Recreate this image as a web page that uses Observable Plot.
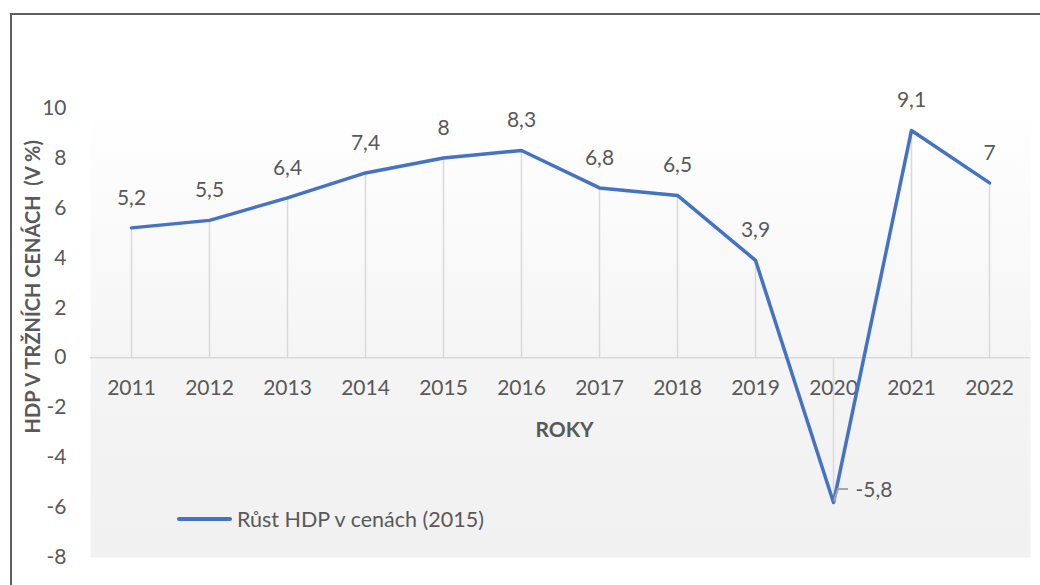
<!DOCTYPE html>
<html>
<head>
<meta charset="utf-8">
<script src="https://cdn.jsdelivr.net/npm/d3@7"></script>
<script src="https://cdn.jsdelivr.net/npm/@observablehq/plot@0.6"></script>
<style>
  html, body { margin: 0; padding: 0; background: #fff; overflow: hidden; }
  #wrap { position: relative; width: 1040px; height: 585px; font-family: Lato, "Open Sans", sans-serif; }
  #wrap svg { position: absolute; left: 0; top: 0; }
  #border { position: absolute; left: 10px; top: 13px; width: 1100px; height: 700px; border: 2px solid #606060; pointer-events: none; }
  #legend { position: absolute; left: 177px; top: 507px; height: 24px; display: flex; align-items: center; font-size: 21.5px; color: #595959; white-space: nowrap; }
  #legend .sw { width: 55px; height: 4px; border-radius: 2px; background: #4472C4; margin-right: 5px; }
</style>
</head>
<body>
<div id="wrap">
  <div id="chart"></div>
  <div id="border"></div>
  <div id="legend"><span class="sw"></span><span id="legendText"></span></div>
</div>
<script>
const years = ["2011","2012","2013","2014","2015","2016","2017","2018","2019","2020","2021","2022"];
const growth = [5.2, 5.5, 6.4, 7.4, 8, 8.3, 6.8, 6.5, 3.9, -5.8, 9.1, 7];
const yTicks = [-8, -6, -4, -2, 0, 2, 4, 6, 8, 10];
const seriesName = "Růst HDP v cenách (2015)";
const xTitle = "ROKY";
const yTitle = "HDP V TRŽNÍCH CENÁCH\u00a0 (V %)";

const data = years.map((y, i) => ({ year: y, value: growth[i], label: String(growth[i]).replace(".", ",") }));
const pos = data.filter(d => d.value >= 0);
const neg = data.filter(d => d.value < 0);

const textColor = "#595959";
const lineColor = "#4472C4";
const gridColor = "#d9d9d9";
const fs = 21;

function leaderMark(index, scales) {
  const g = d3.create("svg:g");
  neg.forEach(d => {
    const px = scales.x(d.year), py = scales.y(d.value);
    g.append("path")
      .attr("d", `M${px + 1},${py - 1}L${px + 5},${py - 13}L${px + 15},${py - 13}`)
      .attr("fill", "none").attr("stroke", "#a6a6a6").attr("stroke-width", 2);
  });
  return g.node();
}

const svg = Plot.plot({
  width: 1040,
  height: 585,
  marginLeft: 90,
  marginRight: 10,
  marginTop: 107.5,
  marginBottom: 28,
  x: { type: "point", domain: years, padding: 0.5, axis: null },
  y: { domain: [-8, 10], axis: null },
  style: { fontFamily: "Lato, 'Open Sans', sans-serif", fontSize: fs + "px", color: textColor, background: "transparent" },
  marks: [
    Plot.frame({ fill: "url(#plotbg)", stroke: null }),
    Plot.ruleX(data, { x: "year", y1: () => 0, y2: "value", stroke: gridColor, strokeWidth: 1.5 }),
    Plot.ruleY([0], { stroke: gridColor, strokeWidth: 1.5 }),
    Plot.text(years, { x: d => d, y: () => 0, dy: 31, text: d => d, fill: textColor, fontSize: fs }),
    Plot.axisY(yTicks, { tickSize: 0, tickPadding: 24, fontSize: fs, fill: textColor, tickFormat: d => String(d), label: null }),
    Plot.line(data, { x: "year", y: "value", stroke: lineColor, strokeWidth: 3.5, strokeLinecap: "round", strokeLinejoin: "round" }),
    Plot.text(pos, { x: "year", y: "value", text: "label", dy: -30, fill: textColor, fontSize: fs }),
    leaderMark,
    Plot.text(neg, { x: "year", y: "value", text: "label", dx: 22, dy: -12, textAnchor: "start", fill: textColor, fontSize: fs }),
    Plot.text([xTitle], { frameAnchor: "middle", text: d => d, dx: 4, dy: 98, fontWeight: "bold", fill: textColor, fontSize: fs }),
    Plot.text([yTitle], { frameAnchor: "left", textAnchor: "middle", text: d => d, dx: -57, dy: -46, rotate: -90, fontWeight: "bold", fill: textColor, fontSize: 20 })
  ]
});

d3.select(svg).insert("defs", ":first-child").html(
  `<linearGradient id="plotbg" x1="0" y1="0" x2="0" y2="1">
     <stop offset="0" stop-color="#ffffff"/>
     <stop offset="0.6" stop-color="#f4f4f4"/>
     <stop offset="1" stop-color="#f1f1f1"/>
   </linearGradient>`
);

document.getElementById("chart").appendChild(svg);
document.getElementById("legendText").textContent = seriesName;
</script>
</body>
</html>
